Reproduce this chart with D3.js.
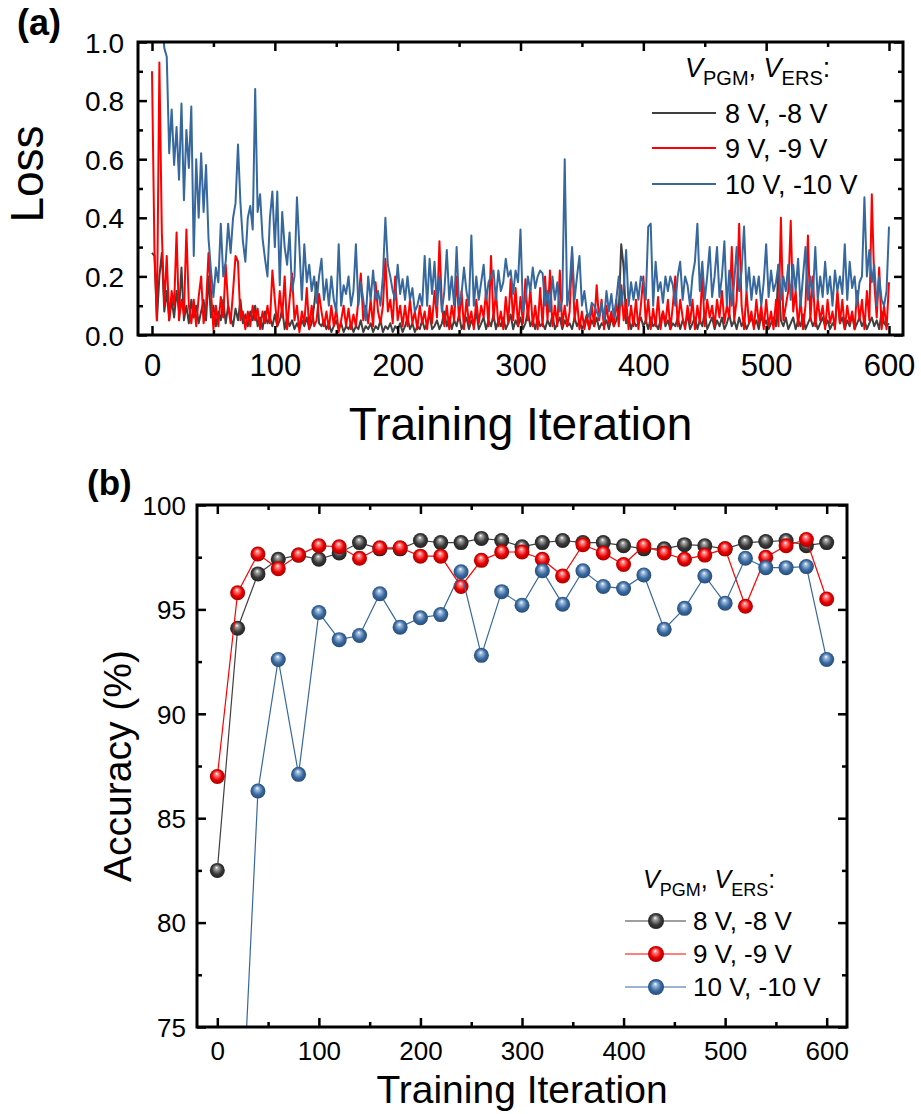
<!DOCTYPE html>
<html>
<head>
<meta charset="utf-8">
<script src="https://cdn.jsdelivr.net/npm/d3@7"></script>
<style>
  body { margin: 0; background: #fff; }
  svg { display: block; }
</style>
</head>
<body>
<div id="chart"></div>
<script>
const FONT = '"Liberation Sans", Arial, Helvetica, sans-serif';

const seriesNames = ["8 V, -8 V", "9 V, -9 V", "10 V, -10 V"];
const lineColors = ["#404040", "#ff0000", "#36689e"];
// sphere shading: [highlight, base, edge]
const sphereColors = [["#a8a8a8", "#3a3a3a", "#1c1c1c"], ["#ff8a8a", "#e80000", "#9c0000"], ["#a4c0e0", "#3a6aa0", "#22466f"]];

// (a) loss, one value every 2 iterations (0..600)
const lossStep = 2;
const loss8 = [
  0.28,0.27,0.05,0.20,0.28,0.08,0.15,0.05,0.12,0.06,
  0.15,0.08,0.23,0.05,0.10,0.04,0.12,0.06,0.10,0.04,
  0.08,0.12,0.05,0.20,0.06,0.10,0.03,0.08,0.05,0.12,
  0.04,0.10,0.06,0.03,0.09,0.05,0.12,0.04,0.07,0.03,
  0.08,0.05,0.10,0.03,0.06,0.02,0.08,0.04,0.06,0.03,
  0.07,0.03,0.05,0.09,0.02,0.06,0.03,0.05,0.02,0.04,
  0.02,0.05,0.03,0.06,0.02,0.04,0.10,0.18,0.04,0.03,
  0.05,0.02,0.04,0.01,0.03,0.05,0.02,0.04,0.01,0.03,
  0.02,0.04,0.01,0.03,0.02,0.05,0.01,0.03,0.02,0.04,
  0.01,0.03,0.02,0.05,0.01,0.03,0.02,0.04,0.01,0.03,
  0.02,0.04,0.01,0.03,0.06,0.02,0.04,0.01,0.03,0.02,
  0.05,0.02,0.04,0.07,0.02,0.03,0.05,0.02,0.04,0.08,
  0.03,0.06,0.02,0.05,0.03,0.07,0.02,0.04,0.06,0.02,
  0.05,0.03,0.08,0.02,0.04,0.06,0.02,0.05,0.03,0.07,
  0.02,0.05,0.03,0.06,0.02,0.04,0.07,0.02,0.05,0.03,
  0.06,0.02,0.04,0.08,0.03,0.05,0.02,0.06,0.03,0.04,
  0.02,0.05,0.03,0.07,0.02,0.04,0.06,0.02,0.05,0.03,
  0.04,0.02,0.06,0.03,0.05,0.02,0.04,0.07,0.02,0.05,
  0.03,0.06,0.02,0.04,0.03,0.05,0.02,0.06,0.03,0.05,
  0.08,0.31,0.23,0.04,0.06,0.02,0.05,0.03,0.04,0.06,
  0.03,0.05,0.02,0.06,0.03,0.04,0.02,0.05,0.08,0.03,
  0.05,0.02,0.04,0.03,0.06,0.02,0.05,0.03,0.07,0.02,
  0.04,0.06,0.02,0.05,0.03,0.08,0.02,0.04,0.06,0.02,
  0.05,0.03,0.06,0.02,0.04,0.07,0.03,0.05,0.02,0.06,
  0.03,0.05,0.02,0.04,0.06,0.03,0.05,0.02,0.07,0.03,
  0.05,0.02,0.04,0.06,0.03,0.24,0.05,0.03,0.06,0.02,
  0.04,0.06,0.02,0.05,0.03,0.07,0.02,0.04,0.06,0.03,
  0.05,0.02,0.04,0.06,0.03,0.05,0.02,0.04,0.03,0.14,
  0.04,0.06,0.02,0.05,0.03,0.07,0.02,0.04,0.06,0.03,
  0.05,0.02,0.04,0.06,0.03,0.05,0.02,0.08,0.04,0.03,
  0.04
];
const loss9 = [
  0.90,0.29,0.05,0.93,0.35,0.10,0.27,0.05,0.15,0.10,
  0.35,0.05,0.12,0.07,0.36,0.10,0.04,0.12,0.03,0.13,
  0.20,0.04,0.10,0.28,0.15,0.02,0.10,0.03,0.13,0.06,
  0.24,0.10,0.04,0.15,0.27,0.25,0.05,0.08,0.02,0.08,
  0.03,0.10,0.05,0.09,0.02,0.08,0.04,0.10,0.04,0.22,
  0.12,0.03,0.15,0.06,0.20,0.02,0.12,0.21,0.05,0.10,
  0.01,0.08,0.04,0.16,0.02,0.10,0.03,0.05,0.14,0.08,
  0.03,0.08,0.02,0.10,0.03,0.09,0.01,0.05,0.10,0.03,
  0.09,0.02,0.07,0.03,0.12,0.21,0.05,0.10,0.04,0.12,
  0.03,0.18,0.08,0.04,0.10,0.26,0.08,0.12,0.04,0.20,
  0.05,0.10,0.03,0.10,0.03,0.12,0.04,0.08,0.02,0.10,
  0.04,0.08,0.02,0.10,0.04,0.15,0.06,0.32,0.10,0.03,
  0.10,0.02,0.10,0.05,0.20,0.05,0.15,0.02,0.12,0.04,
  0.08,0.02,0.12,0.04,0.10,0.06,0.15,0.03,0.27,0.05,
  0.15,0.03,0.08,0.02,0.13,0.04,0.19,0.05,0.16,0.03,
  0.13,0.04,0.19,0.05,0.16,0.03,0.10,0.02,0.16,0.03,
  0.20,0.05,0.22,0.03,0.10,0.03,0.22,0.03,0.10,0.03,
  0.08,0.28,0.05,0.12,0.02,0.08,0.02,0.06,0.02,0.10,
  0.03,0.17,0.05,0.12,0.02,0.10,0.04,0.08,0.03,0.12,
  0.03,0.17,0.05,0.12,0.02,0.10,0.03,0.12,0.02,0.10,
  0.20,0.04,0.12,0.02,0.09,0.03,0.13,0.02,0.08,0.04,
  0.12,0.02,0.10,0.20,0.03,0.12,0.06,0.02,0.10,0.04,
  0.12,0.02,0.10,0.04,0.20,0.03,0.12,0.06,0.10,0.03,
  0.12,0.06,0.15,0.04,0.10,0.06,0.30,0.05,0.12,0.38,
  0.10,0.02,0.15,0.04,0.08,0.02,0.12,0.04,0.10,0.02,
  0.12,0.03,0.08,0.02,0.12,0.03,0.40,0.05,0.10,0.15,
  0.39,0.08,0.15,0.03,0.12,0.02,0.10,0.34,0.05,0.20,
  0.03,0.12,0.05,0.10,0.02,0.12,0.04,0.08,0.02,0.15,
  0.04,0.12,0.02,0.10,0.04,0.08,0.02,0.15,0.05,0.12,
  0.02,0.15,0.05,0.48,0.18,0.06,0.23,0.02,0.10,0.02,
  0.18
];
const loss10 = [
  1.40,1.35,1.30,1.20,1.10,0.98,0.95,0.62,0.77,0.58,
  0.71,0.53,0.79,0.46,0.70,0.57,0.78,0.27,0.60,0.40,
  0.62,0.42,0.58,0.33,0.22,0.13,0.23,0.18,0.38,0.20,
  0.25,0.38,0.28,0.40,0.45,0.65,0.45,0.32,0.25,0.40,
  0.44,0.36,0.84,0.42,0.48,0.33,0.26,0.20,0.40,0.49,
  0.30,0.49,0.17,0.42,0.30,0.24,0.35,0.15,0.20,0.47,
  0.30,0.12,0.31,0.18,0.24,0.15,0.20,0.11,0.20,0.26,
  0.12,0.19,0.10,0.20,0.12,0.08,0.31,0.10,0.17,0.14,
  0.20,0.10,0.15,0.31,0.10,0.18,0.12,0.05,0.20,0.12,
  0.22,0.12,0.15,0.10,0.20,0.40,0.24,0.20,0.15,0.12,
  0.24,0.14,0.19,0.12,0.20,0.12,0.16,0.08,0.10,0.14,
  0.10,0.27,0.10,0.26,0.14,0.25,0.10,0.20,0.08,0.15,
  0.29,0.12,0.20,0.10,0.30,0.10,0.14,0.23,0.15,0.10,
  0.34,0.10,0.20,0.12,0.18,0.24,0.12,0.18,0.20,0.22,
  0.12,0.22,0.15,0.18,0.26,0.20,0.22,0.14,0.22,0.18,
  0.36,0.08,0.12,0.20,0.15,0.23,0.16,0.20,0.22,0.21,
  0.10,0.15,0.08,0.20,0.12,0.18,0.08,0.12,0.60,0.10,
  0.16,0.30,0.12,0.20,0.27,0.10,0.15,0.08,0.06,0.11,
  0.10,0.08,0.06,0.11,0.05,0.15,0.08,0.14,0.06,0.12,
  0.20,0.10,0.16,0.29,0.10,0.18,0.12,0.18,0.12,0.20,
  0.18,0.12,0.37,0.38,0.10,0.25,0.15,0.18,0.11,0.20,
  0.15,0.20,0.17,0.10,0.20,0.25,0.12,0.20,0.17,0.10,
  0.20,0.25,0.38,0.15,0.25,0.12,0.20,0.30,0.13,0.20,
  0.30,0.13,0.20,0.32,0.10,0.22,0.10,0.18,0.30,0.15,
  0.22,0.37,0.15,0.23,0.12,0.20,0.14,0.20,0.10,0.18,
  0.31,0.13,0.22,0.15,0.18,0.24,0.12,0.20,0.15,0.24,
  0.12,0.24,0.15,0.26,0.10,0.20,0.30,0.12,0.20,0.13,
  0.30,0.12,0.20,0.13,0.25,0.14,0.20,0.10,0.22,0.15,
  0.20,0.14,0.31,0.12,0.25,0.16,0.20,0.10,0.18,0.20,
  0.47,0.20,0.29,0.18,0.24,0.10,0.20,0.12,0.10,0.15,
  0.37
];

// (b) test accuracy every 20 iterations
const accIter = [0, 20, 40, 60, 80, 100, 120, 140, 160, 180, 200, 220, 240, 260, 280, 300,
  320, 340, 360, 380, 400, 420, 440, 460, 480, 500, 520, 540, 560, 580, 600];
const acc8 = [82.5, 94.1, 96.7, 97.4, 97.6, 97.4, 97.7, 98.2, 97.9, 97.9, 98.3, 98.2, 98.2, 98.4, 98.3, 98.0,
  98.2, 98.3, 98.2, 98.2, 98.05, 97.9, 97.9, 98.1, 98.05, 97.9, 98.2, 98.25, 98.3, 98.05, 98.2];
const acc9 = [87.0, 95.8, 97.65, 96.95, 97.6, 98.05, 98.0, 97.45, 97.95, 97.95, 97.55, 97.55, 96.1, 97.35, 97.75, 97.75,
  97.4, 96.6, 98.1, 97.7, 97.15, 98.05, 97.7, 97.4, 97.6, 97.9, 95.15, 97.5, 98.05, 98.35, 95.5];
const acc10 = [40, 66, 86.3, 92.6, 87.1, 94.85, 93.55, 93.75, 95.75, 94.15, 94.6, 94.75, 96.8, 92.8, 95.85, 95.2,
  96.85, 95.25, 96.85, 96.1, 96.0, 96.65, 94.05, 95.05, 96.6, 95.3, 97.45, 97.0, 97.0, 97.05, 92.6];

const xTicks = [0, 100, 200, 300, 400, 500, 600];
const xMinor = [50, 150, 250, 350, 450, 550];
const lossTicks = [0, 0.2, 0.4, 0.6, 0.8, 1.0];
const lossMinor = [0.1, 0.3, 0.5, 0.7, 0.9];
const accTicks = [75, 80, 85, 90, 95, 100];
const accMinor = [77.5, 82.5, 87.5, 92.5, 97.5];

const svg = d3.select("#chart").append("svg")
    .attr("width", 921)
    .attr("height", 1114)
    .attr("font-family", FONT);

const defs = svg.append("defs");

// frame with inward ticks on all four sides
function addAxes(x, y, o) {
    const [xl, xr] = x.range();
    const [yb, yt] = y.range();
    const g = svg.append("g");
    const tidy = s => s.attr("font-family", FONT)
        .call(a => a.select(".domain").remove())
        .call(a => a.selectAll(".tick line").attr("stroke", "#000").attr("stroke-width", 2.5));

    [[o.xMinor, 5], [o.xMajor, 9]].forEach(([vals, len], k) => {
        g.append("g").attr("transform", `translate(0,${yb})`)
            .call(d3.axisBottom(x).tickValues(vals).tickSize(-len).tickFormat(k ? o.xFormat : ""))
            .call(tidy)
            .call(a => a.selectAll("text").attr("y", o.xLabelY).attr("dy", null)
                .attr("font-size", o.xFont).attr("fill", "#000"));
        g.append("g").attr("transform", `translate(0,${yt})`)
            .call(d3.axisTop(x).tickValues(vals).tickSize(-len).tickFormat(""))
            .call(tidy);
    });
    [[o.yMinor, 5], [o.yMajor, 9]].forEach(([vals, len], k) => {
        g.append("g").attr("transform", `translate(${xl},0)`)
            .call(d3.axisLeft(y).tickValues(vals).tickSize(-len).tickFormat(k ? o.yFormat : ""))
            .call(tidy)
            .call(a => a.selectAll("text").attr("x", o.yLabelX).attr("dy", "0.36em")
                .attr("font-size", o.yFont).attr("fill", "#000"));
        g.append("g").attr("transform", `translate(${xr},0)`)
            .call(d3.axisRight(y).tickValues(vals).tickSize(-len).tickFormat(""))
            .call(tidy);
    });

    g.append("rect")
        .attr("x", xl).attr("y", yt)
        .attr("width", xr - xl).attr("height", yb - yt)
        .attr("fill", "none").attr("stroke", "#000").attr("stroke-width", 3);
}

function clipFor(id, x, y) {
    const [xl, xr] = x.range();
    const [yb, yt] = y.range();
    defs.append("clipPath").attr("id", id)
        .append("rect").attr("x", xl).attr("y", yt).attr("width", xr - xl).attr("height", yb - yt);
}

// V_PGM, V_ERS: legend title
function legendTitle(x, y, size, sub) {
    const t = svg.append("text").attr("x", x).attr("y", y).attr("font-size", size);
    t.append("tspan").attr("font-style", "italic").text("V");
    t.append("tspan").attr("font-size", sub).attr("dy", size * 0.3).text("PGM");
    t.append("tspan").attr("dy", -size * 0.3).text(", ");
    t.append("tspan").attr("font-style", "italic").text("V");
    t.append("tspan").attr("font-size", sub).attr("dy", size * 0.3).text("ERS");
    t.append("tspan").attr("dy", -size * 0.3).text(":");
}

// ---------- (a) Loss ----------
const xa = d3.scaleLinear([-11.4, 611.4], [138, 903]);
const ya = d3.scaleLinear([0, 1], [335, 42]);
clipFor("clipA", xa, ya);

const lossLine = d3.line()
    .x((d, i) => xa(i * lossStep))
    .y(d => ya(d));

svg.append("g")
    .attr("clip-path", "url(#clipA)")
    .selectAll("path")
    .data([loss8, loss9, loss10])
    .join("path")
    .attr("fill", "none")
    .attr("stroke", (d, i) => lineColors[i])
    .attr("stroke-width", 2)
    .attr("stroke-linejoin", "round")
    .attr("d", lossLine);

addAxes(xa, ya, {
    xMajor: xTicks, xMinor: xMinor, xFormat: d3.format("d"), xLabelY: 41, xFont: 31,
    yMajor: lossTicks, yMinor: lossMinor, yFormat: d3.format(".1f"), yLabelX: -14, yFont: 28
});

svg.append("text")
    .attr("x", 17).attr("y", 35)
    .attr("font-size", 36).attr("font-weight", "bold")
    .text("(a)");

svg.append("text")
    .attr("transform", "translate(43,174) rotate(-90)")
    .attr("text-anchor", "middle")
    .attr("font-size", 46)
    .text("Loss");

svg.append("text")
    .attr("x", 520.5).attr("y", 440)
    .attr("text-anchor", "middle")
    .attr("font-size", 46)
    .text("Training Iteration");

legendTitle(685, 77, 27, 20);
const legA = svg.append("g")
    .selectAll("g")
    .data(seriesNames)
    .join("g")
    .attr("transform", (d, i) => `translate(0,${[113, 148, 184][i]})`);
legA.append("line")
    .attr("x1", 652).attr("x2", 716)
    .attr("stroke", (d, i) => lineColors[i])
    .attr("stroke-width", 2);
legA.append("text")
    .attr("x", 725).attr("y", 10)
    .attr("font-size", 27)
    .text(d => d);

// ---------- (b) Accuracy ----------
const xb = d3.scaleLinear([-20, 620], [197, 847]);
const yb = d3.scaleLinear([75, 100], [1027, 505]);
clipFor("clipB", xb, yb);

sphereColors.forEach((c, i) => {
    const grad = defs.append("radialGradient")
        .attr("id", `sphere${i}`)
        .attr("cx", 0.5).attr("cy", 0.5).attr("r", 0.55)
        .attr("fx", 0.45).attr("fy", 0.3);
    grad.append("stop").attr("offset", 0).attr("stop-color", "#ffffff");
    grad.append("stop").attr("offset", 0.18).attr("stop-color", c[0]);
    grad.append("stop").attr("offset", 0.6).attr("stop-color", c[1]);
    grad.append("stop").attr("offset", 1).attr("stop-color", c[2]);
});

const accSeries = [acc8, acc9, acc10];
const accLine = d3.line()
    .x((d, i) => xb(accIter[i]))
    .y(d => yb(d));

const plotB = svg.append("g").attr("clip-path", "url(#clipB)");
accSeries.forEach((vals, s) => {
    plotB.append("path")
        .attr("fill", "none")
        .attr("stroke", lineColors[s])
        .attr("stroke-width", 1.2)
        .attr("d", accLine(vals));
    plotB.append("g")
        .selectAll("circle")
        .data(vals)
        .join("circle")
        .attr("cx", (d, i) => xb(accIter[i]))
        .attr("cy", d => yb(d))
        .attr("r", 7.5)
        .attr("fill", `url(#sphere${s})`);
});

addAxes(xb, yb, {
    xMajor: xTicks, xMinor: xMinor, xFormat: d3.format("d"), xLabelY: 33, xFont: 26,
    yMajor: accTicks, yMinor: accMinor, yFormat: d3.format("d"), yLabelX: -11, yFont: 26
});

svg.append("text")
    .attr("x", 87).attr("y", 495)
    .attr("font-size", 35).attr("font-weight", "bold")
    .text("(b)");

svg.append("text")
    .attr("transform", "translate(131,766) rotate(-90)")
    .attr("text-anchor", "middle")
    .attr("font-size", 39)
    .text("Accuracy (%)");

svg.append("text")
    .attr("x", 522).attr("y", 1103)
    .attr("text-anchor", "middle")
    .attr("font-size", 39)
    .text("Training Iteration");

legendTitle(643, 888, 25, 18);
const legB = svg.append("g")
    .selectAll("g")
    .data(seriesNames)
    .join("g")
    .attr("transform", (d, i) => `translate(0,${[921, 954, 987][i]})`);
legB.append("line")
    .attr("x1", 625).attr("x2", 686)
    .attr("stroke", (d, i) => lineColors[i])
    .attr("stroke-width", 1.2);
legB.append("circle")
    .attr("cx", 656).attr("r", 8)
    .attr("fill", (d, i) => `url(#sphere${i})`);
legB.append("text")
    .attr("x", 693).attr("y", 9)
    .attr("font-size", 26)
    .text(d => d);
</script>
</body>
</html>
